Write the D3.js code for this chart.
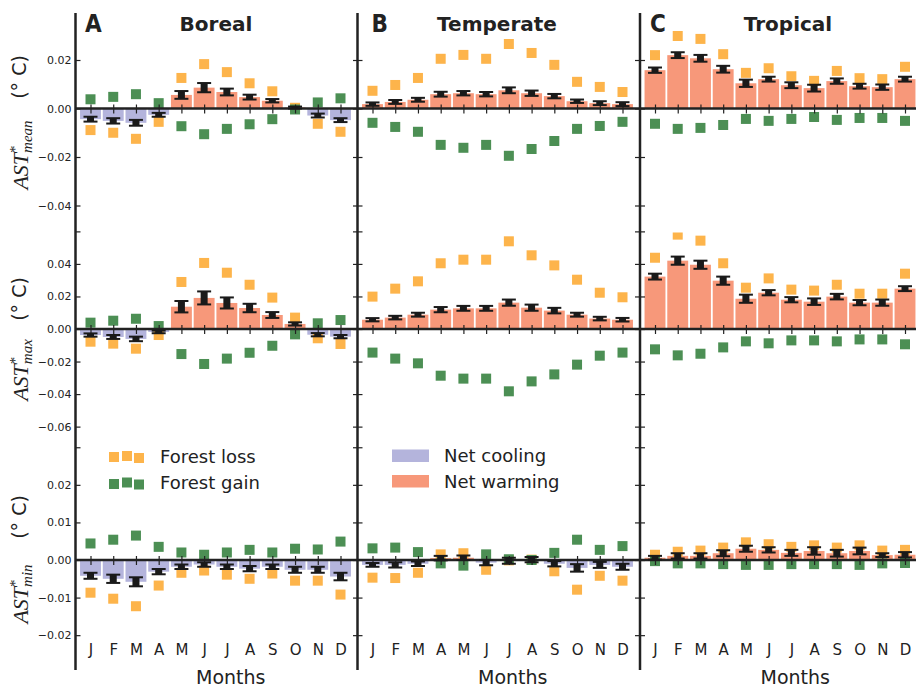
<!DOCTYPE html>
<html>
<head>
<meta charset="utf-8">
<script src="https://cdn.jsdelivr.net/npm/d3@7"></script>
<style>
  body { margin: 0; background: #fff; }
  svg { display: block; font-family: "DejaVu Sans", sans-serif; }
</style>
</head>
<body>
<svg id="chart" width="916" height="688"></svg>
<script>
const months = ['J', 'F', 'M', 'A', 'M', 'J', 'J', 'A', 'S', 'O', 'N', 'D'];
const regions = ['Boreal', 'Temperate', 'Tropical'];
const letters = ['A', 'B', 'C'];
const variables = ['mean', 'max', 'min'];

// each array: [boreal, temperate, tropical]
const meanNet = [
  [-0.0044, -0.0051, -0.0059, -0.0026, 0.0056, 0.0086, 0.0068, 0.0047, 0.0032, 0.0004, -0.0029, -0.0048],
  [0.0018, 0.0027, 0.0036, 0.0059, 0.0063, 0.0059, 0.0075, 0.0063, 0.0051, 0.0030, 0.0022, 0.0018],
  [0.0158, 0.0220, 0.0207, 0.0162, 0.0104, 0.0121, 0.0096, 0.0084, 0.0113, 0.0092, 0.0088, 0.0121]
];
const meanErr = [
  [0.0010, 0.0011, 0.0012, 0.0008, 0.0016, 0.0019, 0.0014, 0.0010, 0.0007, 0.0004, 0.0008, 0.0008],
  [0.0007, 0.0008, 0.0008, 0.0010, 0.0009, 0.0009, 0.0012, 0.0011, 0.0009, 0.0007, 0.0008, 0.0008],
  [0.0011, 0.0012, 0.0014, 0.0014, 0.0015, 0.0010, 0.0012, 0.0014, 0.0011, 0.0010, 0.0011, 0.0010]
];
const meanLoss = [
  [-0.0089, -0.0100, -0.0125, -0.0055, 0.0126, 0.0183, 0.0150, 0.0104, 0.0071, 0.0003, -0.0063, -0.0096],
  [0.0073, 0.0097, 0.0126, 0.0205, 0.0221, 0.0205, 0.0266, 0.0229, 0.0180, 0.0110, 0.0089, 0.0068],
  [0.0220, 0.0299, 0.0287, 0.0224, 0.0147, 0.0166, 0.0133, 0.0114, 0.0155, 0.0125, 0.0121, 0.0172]
];
const meanGain = [
  [0.0038, 0.0048, 0.0059, 0.0022, -0.0073, -0.0106, -0.0084, -0.0065, -0.0044, -0.0004, 0.0025, 0.0042],
  [-0.0059, -0.0076, -0.0096, -0.0150, -0.0162, -0.0150, -0.0195, -0.0167, -0.0134, -0.0084, -0.0072, -0.0055],
  [-0.0063, -0.0084, -0.0080, -0.0068, -0.0043, -0.0051, -0.0043, -0.0035, -0.0047, -0.0039, -0.0039, -0.0051]
];

const maxNet = [
  [-0.0037, -0.0049, -0.0061, -0.0018, 0.0137, 0.0191, 0.0160, 0.0129, 0.0086, 0.0031, -0.0035, -0.0047],
  [0.0057, 0.0070, 0.0088, 0.0119, 0.0127, 0.0127, 0.0162, 0.0131, 0.0113, 0.0088, 0.0064, 0.0057],
  [0.0322, 0.0420, 0.0395, 0.0297, 0.0186, 0.0223, 0.0180, 0.0168, 0.0199, 0.0162, 0.0162, 0.0248]
];
const maxErr = [
  [0.0010, 0.0012, 0.0014, 0.0008, 0.0035, 0.0040, 0.0034, 0.0026, 0.0018, 0.0010, 0.0010, 0.0010],
  [0.0010, 0.0011, 0.0012, 0.0016, 0.0015, 0.0015, 0.0019, 0.0019, 0.0017, 0.0012, 0.0011, 0.0011],
  [0.0018, 0.0025, 0.0025, 0.0025, 0.0025, 0.0016, 0.0016, 0.0020, 0.0017, 0.0016, 0.0019, 0.0015]
];
const maxLoss = [
  [-0.0078, -0.0090, -0.0121, -0.0037, 0.0289, 0.0406, 0.0346, 0.0272, 0.0193, 0.0070, -0.0057, -0.0092],
  [0.0199, 0.0248, 0.0293, 0.0404, 0.0426, 0.0426, 0.0539, 0.0453, 0.0391, 0.0303, 0.0223, 0.0195],
  [0.0438, 0.0580, 0.0543, 0.0404, 0.0254, 0.0311, 0.0242, 0.0236, 0.0272, 0.0217, 0.0217, 0.0340]
];
const maxGain = [
  [0.0039, 0.0051, 0.0063, 0.0018, -0.0154, -0.0215, -0.0182, -0.0146, -0.0103, -0.0033, 0.0035, 0.0055],
  [-0.0145, -0.0182, -0.0211, -0.0287, -0.0305, -0.0305, -0.0383, -0.0322, -0.0279, -0.0219, -0.0164, -0.0145],
  [-0.0125, -0.0162, -0.0152, -0.0113, -0.0076, -0.0088, -0.0070, -0.0070, -0.0076, -0.0064, -0.0064, -0.0094]
];

const minNet = [
  [-0.0042, -0.0050, -0.0058, -0.0031, -0.0018, -0.0012, -0.0018, -0.0023, -0.0018, -0.0026, -0.0026, -0.0044],
  [-0.0013, -0.0013, -0.0010, 0.0005, 0.0006, -0.0007, -0.0002, 0.0001, -0.0010, -0.0021, -0.0013, -0.0018],
  [0.0006, 0.0011, 0.0011, 0.0018, 0.0030, 0.0027, 0.0019, 0.0024, 0.0018, 0.0024, 0.0013, 0.0014]
];
const minErr = [
  [0.0008, 0.0011, 0.0012, 0.0007, 0.0006, 0.0006, 0.0006, 0.0007, 0.0006, 0.0008, 0.0008, 0.0010],
  [0.0005, 0.0007, 0.0006, 0.0006, 0.0006, 0.0007, 0.0008, 0.0007, 0.0007, 0.0010, 0.0008, 0.0008],
  [0.0005, 0.0007, 0.0007, 0.0008, 0.0008, 0.0007, 0.0008, 0.0010, 0.0009, 0.0009, 0.0005, 0.0007]
];
const minLoss = [
  [-0.0087, -0.0103, -0.0123, -0.0068, -0.0034, -0.0028, -0.0039, -0.0050, -0.0036, -0.0055, -0.0055, -0.0092],
  [-0.0047, -0.0048, -0.0034, 0.0015, 0.0018, -0.0026, -0.0001, 0.0001, -0.0030, -0.0079, -0.0042, -0.0055],
  [0.0014, 0.0022, 0.0025, 0.0033, 0.0047, 0.0042, 0.0035, 0.0039, 0.0033, 0.0039, 0.0025, 0.0027]
];
const minGain = [
  [0.0044, 0.0054, 0.0065, 0.0035, 0.0020, 0.0014, 0.0020, 0.0027, 0.0020, 0.0030, 0.0028, 0.0049],
  [0.0031, 0.0033, 0.0021, -0.0009, -0.0015, 0.0015, 0.0002, 0.0000, 0.0019, 0.0054, 0.0027, 0.0037],
  [-0.0003, -0.0009, -0.0009, -0.0011, -0.0013, -0.0013, -0.0011, -0.0011, -0.0011, -0.0013, -0.0009, -0.0008]
];

const yTicks = [
  [-0.04, -0.02, 0, 0.02],
  [-0.06, -0.04, -0.02, 0, 0.02, 0.04, 0.06],
  [-0.02, -0.01, 0, 0.01, 0.02, 0.03]
];
const yTicksNoLabel = [[], [0.06], [0.03]];

const netRows = [meanNet, maxNet, minNet];
const errRows = [meanErr, maxErr, minErr];
const lossRows = [meanLoss, maxLoss, minLoss];
const gainRows = [meanGain, maxGain, minGain];

// layout
const colLeft = [75.5, 357.5, 640], colW = 282.5;
const rowTop = [13, 232.5, 447.3], rowBot = [232.5, 447.3, 670];
const rowZero = [108.5, 329, 560], rowK = [2425, 1627, 3758];
const letterDx = [9.5, 14, 10];
const titleX = [216, 497, 788];
const unitY = [77, 299, 517], astY = [155, 370, 594];

const cWarm = '#f7987a', cCool = '#b4b4dc', cLoss = '#fdb44b', cGain = '#4c8f54', ink = '#222';

const svg = d3.select('#chart');
const defs = svg.append('defs');

for (let r = 0; r < 3; r++) {
  const y = d3.scaleLinear()
    .domain([(rowZero[r] - rowBot[r]) / rowK[r], (rowZero[r] - rowTop[r]) / rowK[r]])
    .range([rowBot[r], rowTop[r]]);

  for (let c = 0; c < 3; c++) {
    const x = d3.scaleLinear().domain([-0.66, 11.77]).range([colLeft[c], colLeft[c] + colW]);
    const step = x(1) - x(0);
    const clipId = `clip-${r}-${c}`;
    defs.append('clipPath').attr('id', clipId).append('rect')
      .attr('x', colLeft[c]).attr('y', rowTop[r])
      .attr('width', colW).attr('height', rowBot[r] - rowTop[r]);

    const g = svg.append('g');
    const marks = g.append('g').attr('clip-path', `url(#${clipId})`);
    const net = netRows[r][c], err = errRows[r][c];
    const loss = lossRows[r][c], gain = gainRows[r][c];
    const idx = d3.range(12);

    // bars
    marks.selectAll('.bar').data(idx).enter().append('rect')
      .attr('x', i => x(i) - step * 0.46)
      .attr('width', step * 0.92)
      .attr('y', i => y(Math.max(0, net[i])))
      .attr('height', i => Math.abs(y(net[i]) - y(0)))
      .attr('fill', i => net[i] >= 0 ? cWarm : cCool);

    // forest loss / gain squares
    marks.selectAll('.loss').data(idx).enter().append('rect')
      .attr('x', i => x(i) - 5).attr('y', i => y(loss[i]) - 5)
      .attr('width', 10).attr('height', 10).attr('fill', cLoss);
    marks.selectAll('.gain').data(idx).enter().append('rect')
      .attr('x', i => x(i) - 5).attr('y', i => y(gain[i]) - 5)
      .attr('width', 10).attr('height', 10).attr('fill', cGain);

    // zero line and month ticks
    g.append('line')
      .attr('x1', colLeft[c]).attr('x2', colLeft[c] + colW)
      .attr('y1', y(0)).attr('y2', y(0))
      .attr('stroke', ink).attr('stroke-width', 2.5);
    g.append('g')
      .attr('transform', `translate(0,${y(0) - 4})`)
      .call(d3.axisBottom(x).tickValues(idx).tickSize(9).tickFormat(''))
      .call(a => a.select('.domain').remove())
      .call(a => a.selectAll('line').attr('stroke', ink).attr('stroke-width', 1.2));

    // error bars
    const eb = g.selectAll('.eb').data(idx).enter().append('g');
    eb.append('rect')
      .attr('x', i => x(i) - 3.5).attr('width', 7)
      .attr('y', i => y(net[i] + err[i]))
      .attr('height', i => y(net[i] - err[i]) - y(net[i] + err[i]))
      .attr('fill', '#1a1a1a');
    [1, -1].forEach(s => {
      eb.append('line')
        .attr('x1', i => x(i) - 7).attr('x2', i => x(i) + 7)
        .attr('y1', i => y(net[i] + s * err[i])).attr('y2', i => y(net[i] + s * err[i]))
        .attr('stroke', '#1a1a1a').attr('stroke-width', 2);
    });

    // y ticks, inward on both sides
    const fmt = d => yTicksNoLabel[r].includes(d) ? '' : d3.format('.2f')(d);
    const left = g.append('g')
      .attr('transform', `translate(${colLeft[c]},0)`)
      .call(d3.axisLeft(y).tickValues(yTicks[r]).tickSize(-5).tickPadding(4)
        .tickFormat(c === 0 ? fmt : ''));
    const right = g.append('g')
      .attr('transform', `translate(${colLeft[c] + colW},0)`)
      .call(d3.axisRight(y).tickValues(yTicks[r]).tickSize(-5).tickFormat(''));
    [left, right].forEach(a => {
      a.select('.domain').remove();
      a.selectAll('line').attr('stroke', ink).attr('stroke-width', 1.2);
      a.selectAll('text').attr('fill', ink).style('font-size', '11px')
        .style('font-family', '"DejaVu Sans", sans-serif');
    });

    // month labels on the bottom row
    if (r === 2) {
      g.append('g')
        .attr('transform', 'translate(0,644)')
        .call(d3.axisBottom(x).tickValues(idx).tickSize(0).tickPadding(0).tickFormat(i => months[i]))
        .call(a => a.select('.domain').remove())
        .call(a => a.selectAll('text').attr('fill', ink).style('font-size', '15px')
          .style('font-family', '"DejaVu Sans", sans-serif'));
      g.append('text')
        .attr('x', colLeft[c] + colW / 2 + 14).attr('y', 684)
        .attr('text-anchor', 'middle').attr('fill', ink)
        .style('font-size', '19px').text('Months');
    }

    // titles
    if (r === 0) {
      g.append('text')
        .attr('x', colLeft[c] + letterDx[c]).attr('y', 32)
        .attr('fill', ink)
        .style('font-family', '"Liberation Sans Narrow", "DejaVu Sans Condensed", sans-serif')
        .style('font-stretch', 'condensed')
        .style('font-weight', 'bold').style('font-size', '24px')
        .text(letters[c]);
      g.append('text')
        .attr('x', titleX[c]).attr('y', 31)
        .attr('text-anchor', 'middle').attr('fill', ink)
        .style('font-weight', 'bold').style('font-size', '20px')
        .text(regions[c]);
    }
  }

  // y axis label
  svg.append('text')
    .attr('transform', `translate(25.5,${unitY[r]}) rotate(-90)`)
    .attr('text-anchor', 'middle').attr('fill', ink)
    .style('font-size', '19px')
    .text('(° C)');
  const ast = svg.append('text')
    .attr('transform', `translate(28,${astY[r]}) rotate(-90)`)
    .attr('text-anchor', 'middle').attr('fill', ink)
    .style('font-family', '"Liberation Serif", serif')
    .style('font-style', 'italic').style('font-size', '22px');
  ast.append('tspan').text('AST');
  ast.append('tspan').attr('dy', -8).style('font-size', '15px').style('font-style', 'normal').text('*');
  ast.append('tspan').attr('dx', -7.5).attr('dy', 12).style('font-size', '15px').text(variables[r]);
}

// spines
colLeft.concat([colLeft[2] + colW]).forEach(xp => {
  svg.append('line')
    .attr('x1', xp).attr('x2', xp).attr('y1', rowTop[0]).attr('y2', rowBot[2])
    .attr('stroke', ink).attr('stroke-width', 2.5);
});

// legends
const lossMarks = [[114, 457], [127, 456], [139, 458]];
const gainMarks = [[114, 484], [127, 482.5], [139, 484.5]];
const leg = svg.append('g');
lossMarks.forEach(p => leg.append('rect').attr('x', p[0] - 5).attr('y', p[1] - 5)
  .attr('width', 10).attr('height', 10).attr('fill', cLoss));
gainMarks.forEach(p => leg.append('rect').attr('x', p[0] - 5).attr('y', p[1] - 5)
  .attr('width', 10).attr('height', 10).attr('fill', cGain));
leg.append('rect').attr('x', 392).attr('y', 449.5).attr('width', 37).attr('height', 12.5).attr('fill', cCool);
leg.append('rect').attr('x', 392).attr('y', 475).attr('width', 37).attr('height', 12.5).attr('fill', cWarm);
[['Forest loss', 160, 463], ['Forest gain', 160, 489], ['Net cooling', 444, 462], ['Net warming', 444, 488]]
  .forEach(t => leg.append('text').attr('x', t[1]).attr('y', t[2])
    .attr('fill', ink).style('font-size', '18px').text(t[0]));
</script>
</body>
</html>
